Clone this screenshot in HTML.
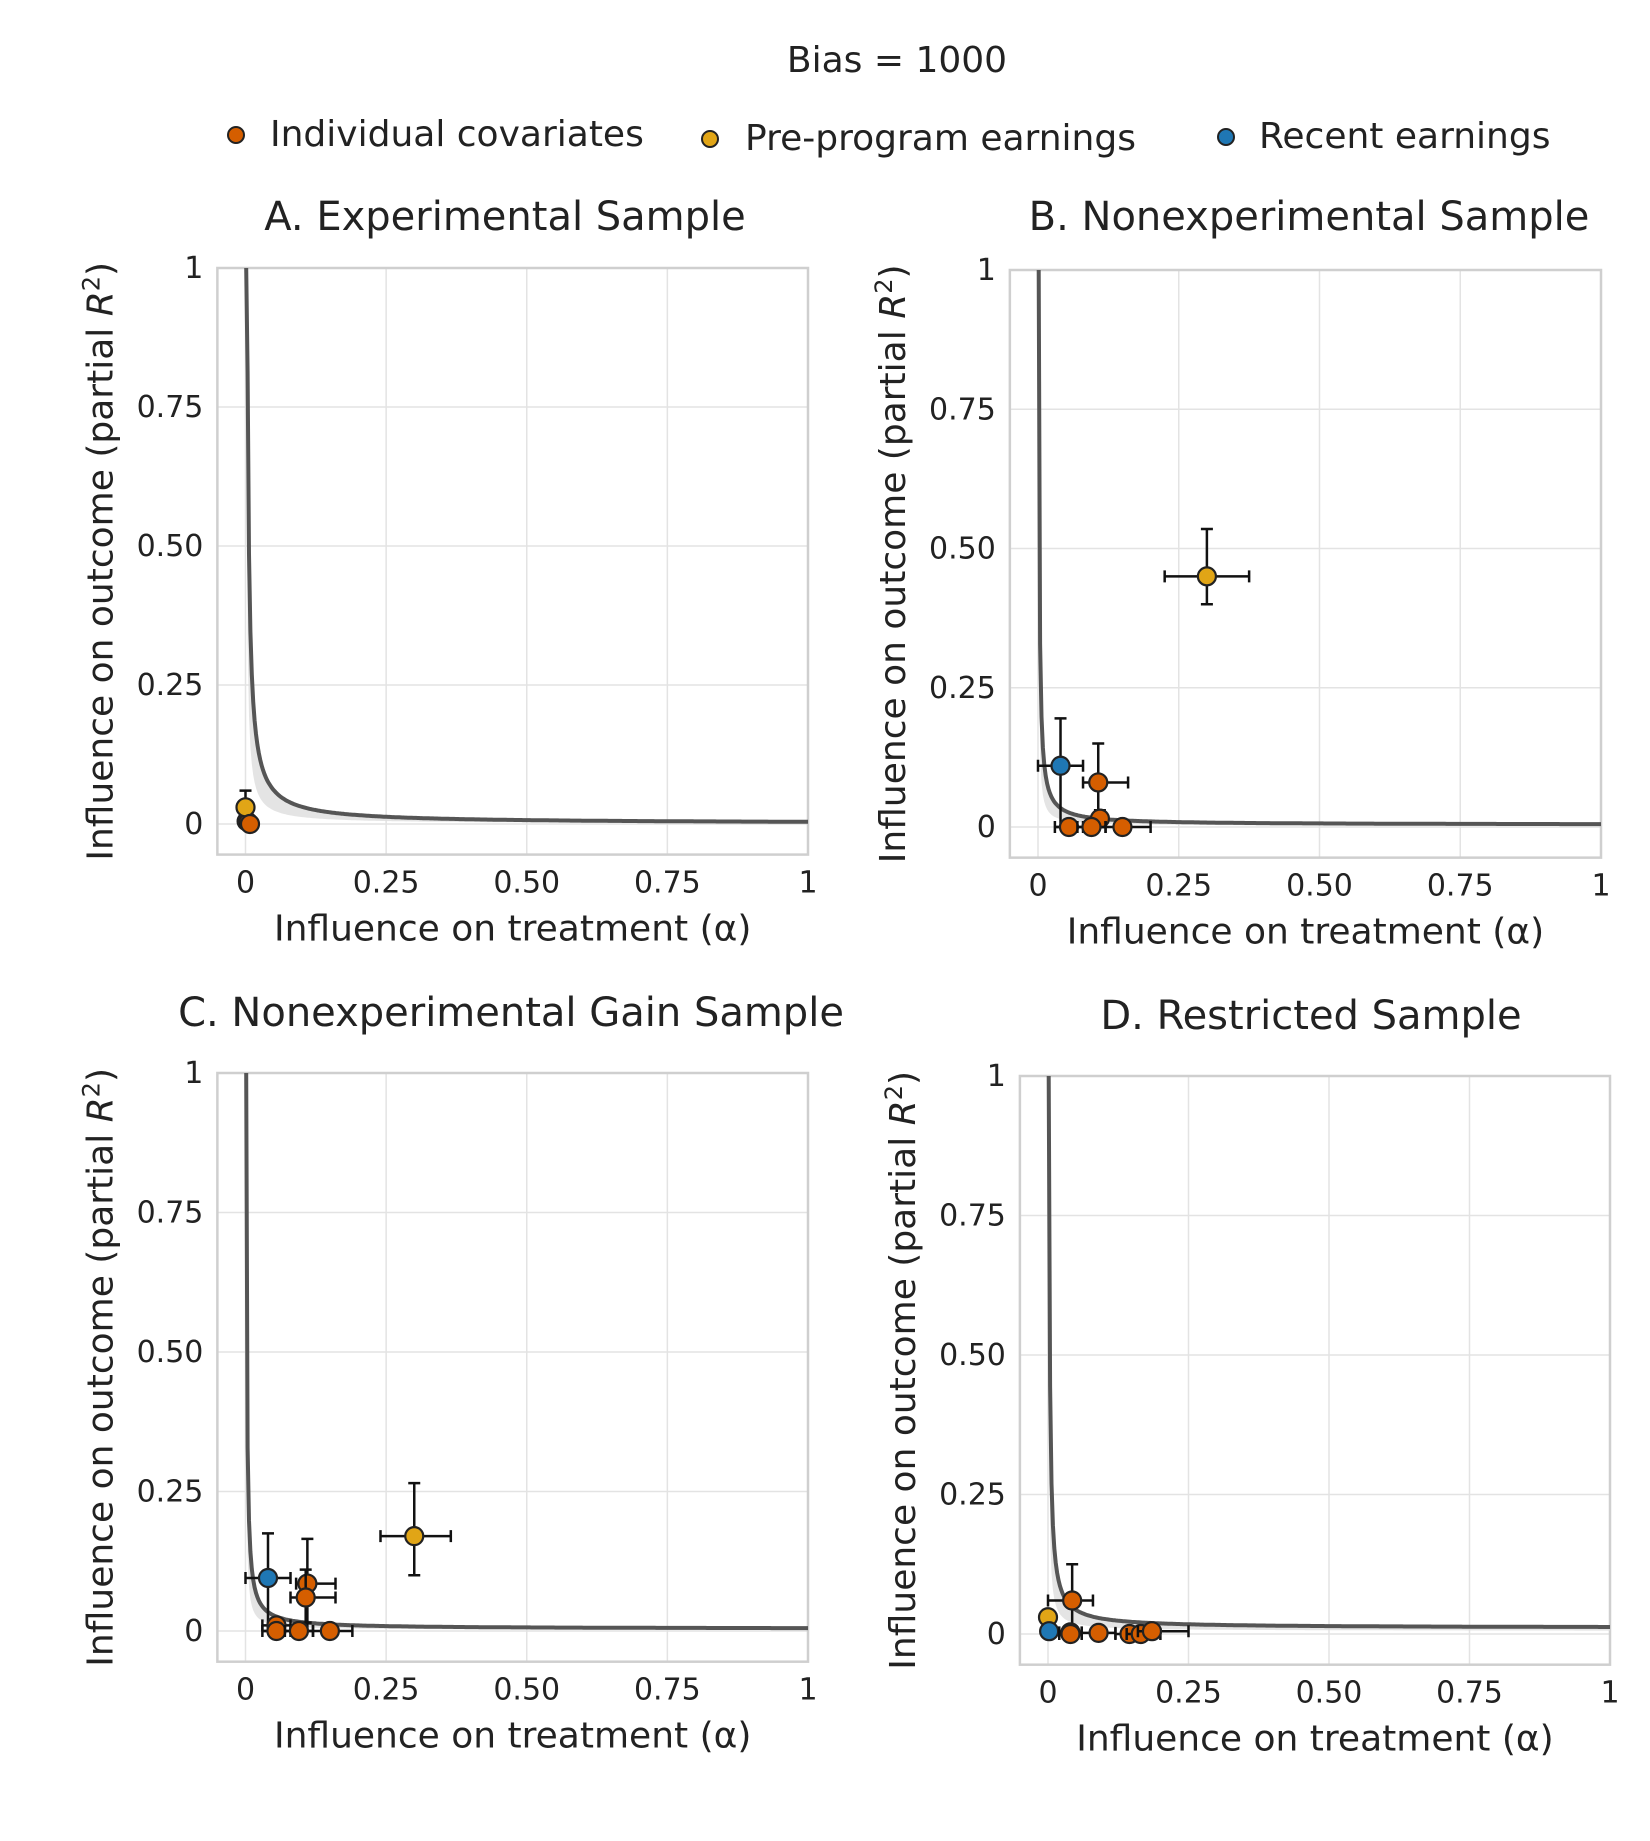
<!DOCTYPE html>
<html><head><meta charset="utf-8">
<style>
html,body{margin:0;padding:0;background:#fff;}
svg{display:block;font-family:"DejaVu Sans","Liberation Sans",sans-serif;}
</style></head>
<body>
<svg id="chart" width="1650" height="1841" viewBox="0 0 1650 1841" xmlns="http://www.w3.org/2000/svg">
<text x="897" y="72" font-size="36" text-anchor="middle" fill="#222">Bias = 1000</text>
<g>
<g><circle cx="236" cy="135" r="8" fill="#D55E00" stroke="#222" stroke-width="2"/><text x="270" y="146" font-size="36" fill="#222">Individual covariates</text></g>
<g><circle cx="710" cy="139" r="8" fill="#E1A516" stroke="#222" stroke-width="2"/><text x="745" y="150" font-size="36" fill="#222">Pre-program earnings</text></g>
<g><circle cx="1226" cy="137" r="8" fill="#1F77B4" stroke="#222" stroke-width="2"/><text x="1259" y="148" font-size="36" fill="#222">Recent earnings</text></g>
</g>
</svg>
<script>
// Panel data (alpha = x, R2 = y; xlo/xhi/ylo/yhi are error bar ends)
const panelTitles = ["A. Experimental Sample","B. Nonexperimental Sample","C. Nonexperimental Gain Sample","D. Restricted Sample"];
const xTicks = [0,0.25,0.5,0.75,1];
const xTickLabels = ["0","0.25","0.50","0.75","1"];
const yTicks = [0,0.25,0.5,0.75,1];
const yTickLabels = ["0","0.25","0.50","0.75","1"];
const curveC = [0.003,0.0012,0.0012,0.0016];
const curveD = [0.001,0.004,0.004,0.011];
// series: group (0 indiv,1 pre,2 recent), x, y, xlo, xhi, ylo, yhi
const pointsA = [[2,0.002,0.005,0.002,0.002,0.005,0.005],[0,0.005,0.003,0.005,0.005,0.003,0.003],[1,0.0,0.03,0.0,0.0,0.0,0.06],[0,0.008,0.0,0.008,0.008,0.0,0.0]];
const pointsB = [[1,0.30,0.45,0.225,0.375,0.40,0.535],[2,0.04,0.11,0.0,0.08,0.0,0.195],[0,0.107,0.08,0.08,0.16,0.0,0.15],[0,0.11,0.015,0.11,0.11,0.0,0.03],[0,0.055,0.0,0.03,0.08,0.0,0.0],[0,0.095,0.0,0.07,0.12,0.0,0.0],[0,0.15,0.0,0.12,0.2,0.0,0.0]];
const pointsC = [[1,0.30,0.17,0.24,0.365,0.10,0.265],[2,0.04,0.095,0.0,0.08,0.0,0.175],[0,0.11,0.085,0.09,0.16,0.0,0.165],[0,0.107,0.06,0.08,0.16,0.015,0.11],[0,0.055,0.01,0.03,0.08,0.0,0.02],[0,0.055,0.0,0.03,0.08,0.0,0.0],[0,0.095,0.0,0.07,0.12,0.0,0.0],[0,0.15,0.0,0.12,0.19,0.0,0.0]];
const pointsD = [[1,0.0,0.03,0.0,0.0,0.03,0.03],[2,0.002,0.005,0.002,0.002,0.005,0.005],[0,0.043,0.06,0.0,0.08,0.0,0.125],[0,0.04,0.003,0.02,0.06,0.0,0.01],[0,0.04,0.0,0.02,0.06,0.0,0.0],[0,0.09,0.002,0.06,0.12,0.0,0.0],[0,0.145,0.0,0.12,0.17,0.0,0.0],[0,0.165,0.0,0.14,0.2,0.0,0.0],[0,0.185,0.005,0.16,0.25,0.0,0.0]];
const allPoints = [pointsA,pointsB,pointsC,pointsD];
const colors = ["#D55E00","#E1A516","#1F77B4"];
const groupNames = ["individual-covariate","pre-program-earnings","recent-earnings"];
// layout (pixel geometry)
const layouts = [
 {x0:245.5,x1:808,y0:824,y1:268,tx:505,ty:230},
 {x0:1038,x1:1601,y0:827,y1:270,tx:1309,ty:230},
 {x0:245.5,x1:808,y0:1631,y1:1073,tx:511,ty:1026},
 {x0:1048,x1:1610,y0:1634,y1:1076,tx:1311,ty:1029}
];
const NS="http://www.w3.org/2000/svg";
const svg=document.getElementById('chart');
function mk(tag,attrs,parent){const e=document.createElementNS(NS,tag);for(const k in attrs)e.setAttribute(k,attrs[k]);parent.appendChild(e);return e;}
layouts.forEach((L,pi)=>{
 const sx=v=>L.x0+(L.x1-L.x0)*v;
 const sy=v=>L.y0-(L.y0-L.y1)*v;
 const g=mk('g',{},svg);
 
 
 const t=mk('text',{x:L.tx,y:L.ty,'font-size':40,'text-anchor':'middle',fill:'#222'},g);t.textContent=panelTitles[pi];
 
 
 const bl=sx(-0.05), bb=sy(-0.055);
 xTicks.forEach(v=>{const l=mk('line',{x1:sx(v),x2:sx(v),y1:sy(1),y2:bb,stroke:'#e3e3e3','stroke-width':1.5},g);
  
  });
 yTicks.forEach(v=>{const l=mk('line',{x1:bl,x2:sx(1),y1:sy(v),y2:sy(v),stroke:'#e3e3e3','stroke-width':1.5},g);
  
  });
 const fr=mk('rect',{x:bl,y:sy(1),width:sx(1)-bl,height:bb-sy(1),fill:'none',stroke:'#cfcfcf','stroke-width':2.5},g);
 
 
 xTicks.forEach((v,i)=>{const tx=mk('text',{x:sx(v),y:bb+38,'font-size':30,'text-anchor':'middle',fill:'#222'},g);tx.textContent=xTickLabels[i];
  
  });
 yTicks.forEach((v,i)=>{const tx=mk('text',{x:bl-14,y:sy(v)+10,'font-size':30,'text-anchor':'end',fill:'#222'},g);tx.textContent=yTickLabels[i];
  
  });
 const xt=mk('text',{x:(bl+sx(1))/2,y:bb+86,'font-size':36,'text-anchor':'middle',fill:'#222'},g);xt.textContent='Influence on treatment (α)';
 
 
 const yc=(sy(1)+bb)/2, yx=bl-105;
 const yt=mk('text',{x:yx,y:yc,'font-size':36,'text-anchor':'middle',fill:'#222',transform:`rotate(-90 ${yx} ${yc})`},g);
 yt.innerHTML='Influence on outcome (partial <tspan font-style="italic">R</tspan><tspan font-size="24" dy="-13">2</tspan><tspan dy="13">)</tspan>';
 
 
 const c=curveC[pi], d=curveD[pi];
 let top='',bot='',line='';
 for(let i=0;i<=400;i++){const x=0.0012+i*(1-0.0012)/400;const y=Math.min(1,c/x+d);
  line+=(i?'L':'M')+sx(x).toFixed(1)+' '+sy(y).toFixed(1);
  top+=(i?'L':'M')+sx(x).toFixed(1)+' '+sy(y).toFixed(1);
  bot='L'+sx(x).toFixed(1)+' '+sy(Math.min(1,c*0.4/x+d*0.5)).toFixed(1)+bot;}
 const band=mk('path',{d:top+bot+'Z',fill:'#ddd',opacity:0.8},g);
 
 
 const cl=mk('path',{d:line,fill:'none',stroke:'#555','stroke-width':4},g);
 
 
 allPoints[pi].forEach(p=>{
  const [gr,x,y,xlo,xhi,ylo,yhi]=p;
  const pg=mk('g',{},g);
  
  
  if(xhi>xlo){mk('path',{d:`M${sx(xlo)} ${sy(y)}H${sx(xhi)}M${sx(xlo)} ${sy(y)-6}v12M${sx(xhi)} ${sy(y)-6}v12`,stroke:'#111','stroke-width':2.5,fill:'none'},pg);}
  if(yhi>ylo){mk('path',{d:`M${sx(x)} ${sy(ylo)}V${sy(yhi)}M${sx(x)-6} ${sy(yhi)}h12M${sx(x)-6} ${sy(ylo)}h12`,stroke:'#111','stroke-width':2.5,fill:'none'},pg);}
  mk('circle',{cx:sx(x),cy:sy(y),r:9,fill:colors[gr],stroke:'#222','stroke-width':2.2},pg);
 });
});
</script>
</body></html>
